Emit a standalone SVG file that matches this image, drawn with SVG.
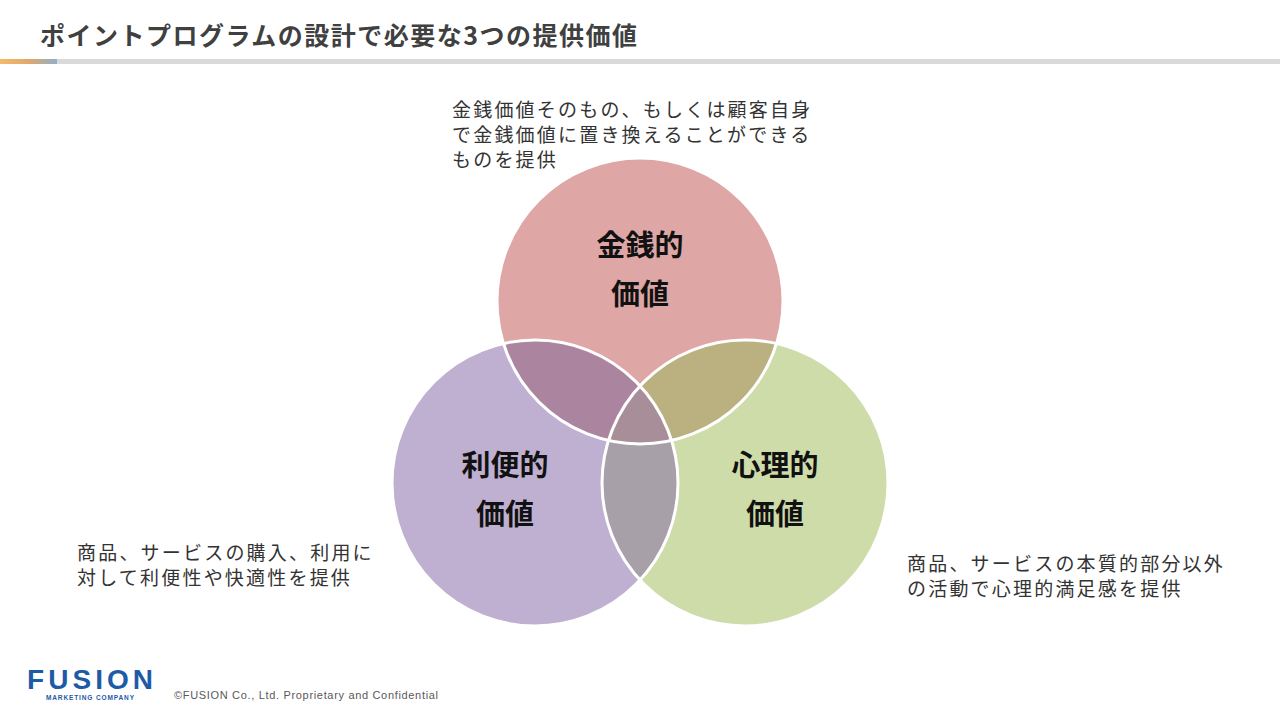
<svg xmlns="http://www.w3.org/2000/svg" width="1280" height="720" viewBox="0 0 1280 720">
<defs>
<linearGradient id="g" x1="0" x2="1"><stop offset="0" stop-color="#f5b96a"/><stop offset="0.5" stop-color="#e0a86c"/><stop offset="1" stop-color="#8fb0cc"/></linearGradient>
<clipPath id="cT"><circle cx="640" cy="301" r="143"/></clipPath>
<clipPath id="cL"><circle cx="535" cy="483" r="143"/></clipPath>
<clipPath id="cR"><circle cx="745" cy="483" r="143"/></clipPath>
<style>
.t{font-family:"Noto Sans CJK JP","Noto Sans",sans-serif;fill:#333;font-size:19px;letter-spacing:2.2px}
.b{font-family:"Noto Sans CJK JP",sans-serif;font-weight:bold;font-size:29px;fill:#111;text-anchor:middle}
.w{fill:none;stroke:#fff;stroke-width:3}
</style>
</defs>
<rect width="1280" height="720" fill="#fff"/>
<text x="40" y="45" style="font-family:'Noto Sans CJK JP',sans-serif;font-weight:bold;font-size:25px;fill:#404040;letter-spacing:1.5px">ポイントプログラムの設計で必要な3つの提供価値</text>
<rect x="0" y="59" width="1280" height="5" fill="#d9d9d9"/>
<rect x="0" y="59" width="57" height="5" fill="url(#g)"/>
<g id="circles">
<circle cx="640" cy="301" r="143" fill="#dea6a5"/>
<circle cx="535" cy="483" r="143" fill="#bfb0d1"/>
<circle cx="745" cy="483" r="143" fill="#cedcaa"/>
<g clip-path="url(#cT)"><circle cx="535" cy="483" r="143" fill="#ab85a0"/><circle cx="745" cy="483" r="143" fill="#bbb07f"/></g>
<g clip-path="url(#cL)"><circle cx="745" cy="483" r="143" fill="#a8a0a8"/><g clip-path="url(#cT)"><circle cx="745" cy="483" r="143" fill="#a88e98"/></g></g>
<circle class="w" cx="640" cy="301" r="143"/>
<circle class="w" cx="535" cy="483" r="143"/>
<circle class="w" cx="745" cy="483" r="143"/>
</g>
<g id="n1"><text class="b" x="640" y="256">金銭的</text><text class="b" x="640" y="305">価値</text>
<text class="t" x="452" y="117">金銭価値そのもの、もしくは顧客自身</text><text class="t" x="452" y="142">で金銭価値に置き換えることができる</text><text class="t" x="452" y="167">ものを提供</text></g>
<g id="n2"><text class="b" x="505" y="476">利便的</text><text class="b" x="505" y="525">価値</text>
<text class="t" x="77" y="560">商品、サービスの購入、利用に</text><text class="t" x="77" y="585">対して利便性や快適性を提供</text></g>
<g id="n3"><text class="b" x="775" y="476">心理的</text><text class="b" x="775" y="525">価値</text>
<text class="t" x="907" y="571">商品、サービスの本質的部分以外</text><text class="t" x="907" y="596">の活動で心理的満足感を提供</text></g>
<g id="footer">
<text x="27" y="689" textLength="126" style="font-family:'Liberation Sans',sans-serif;font-weight:bold;font-size:28px;fill:#1d5aa8">FUSION</text>
<text x="46" y="700" textLength="88" style="font-family:'Liberation Sans',sans-serif;font-weight:bold;font-size:6.5px;fill:#1d5aa8">MARKETING COMPANY</text>
<text x="174" y="699" textLength="264" style="font-family:'Liberation Sans',sans-serif;font-size:11px;fill:#595959">©FUSION Co., Ltd. Proprietary and Confidential</text>
</g>
</svg>
